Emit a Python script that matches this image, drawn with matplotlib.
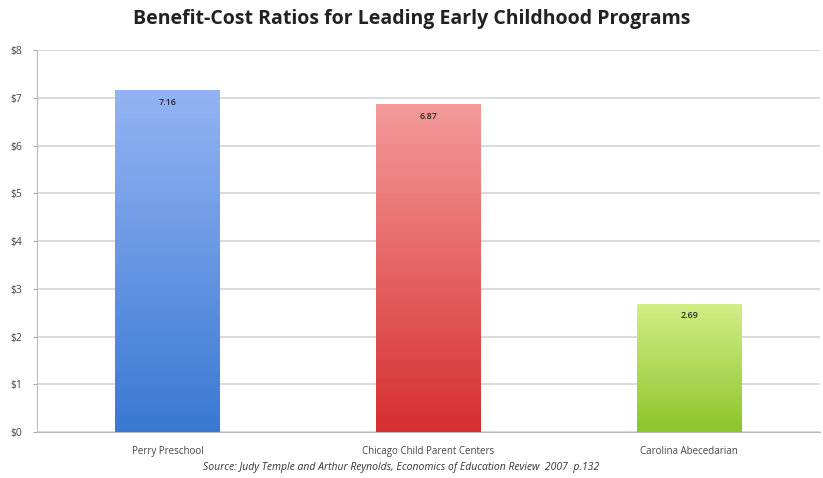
# benefit-cost ratio bar chart

import matplotlib.pyplot as plt
import matplotlib.colors as mcolors
import numpy as np

programs = ['Perry Preschool', 'Chicago Child Parent Centers', 'Carolina Abecedarian']
ratios = [7.16, 6.87, 2.69]
value_labels = ['7.16', '6.87', '2.69']
y_ticks = [0, 1, 2, 3, 4, 5, 6, 7, 8]

# top colour, bottom colour for each bar
gradients = [('#93b4f4', '#3a79d2'), ('#f59a9a', '#d62f2f'), ('#d3ee86', '#8cc52c')]

plt.rcParams['font.family'] = ['Open Sans', 'DejaVu Sans']

fig = plt.figure(figsize=(8.23, 4.78), dpi=100)
ax = fig.add_axes([0.045, 0.096, 0.951, 0.799])

x = np.arange(len(programs))
bars = ax.bar(x, ratios, width=0.4, color='none', edgecolor='none', zorder=3)

# fill each bar with a vertical gradient
for bar, (top, bottom) in zip(bars, gradients):
    cmap = mcolors.LinearSegmentedColormap.from_list('g', [bottom, top])
    grad = np.linspace(0, 1, 256).reshape(-1, 1)
    x0, w, h = bar.get_x(), bar.get_width(), bar.get_height()
    im = ax.imshow(grad, cmap=cmap, aspect='auto', origin='lower',
                   extent=[x0, x0 + w, 0, h], zorder=3)
    im.set_clip_path(bar)

for xi, r, lab in zip(x, ratios, value_labels):
    ax.text(xi, r - 0.25, lab, ha='center', va='center', fontsize=6.5,
            color='#2a2a2a', fontweight='semibold', zorder=4)

ax.set_xlim(-0.5, 2.5)
ax.set_ylim(0, 8)
ax.set_yticks(y_ticks)
ax.set_yticklabels([f'${t}' for t in y_ticks], fontsize=7.5, color='#444444')
ax.set_xticks(x)
ax.set_xticklabels(programs, fontsize=7, color='#444444')
ax.tick_params(axis='y', length=3, color='#aaaaaa', pad=8)
ax.tick_params(axis='x', length=0, pad=10)

ax.yaxis.grid(True, color='#d4d4d4', linewidth=1.2, zorder=0)
ax.set_axisbelow(True)
for s in ['top', 'right']:
    ax.spines[s].set_visible(False)
ax.spines['left'].set_color('#bbbbbb')
ax.spines['bottom'].set_color('#bbbbbb')

fig.text(0.5, 0.96, 'Benefit-Cost Ratios for Leading Early Childhood Programs',
         ha='center', va='center', fontsize=14, fontweight='bold', color='#222222')
fig.text(0.487, 0.022,
         'Source: Judy Temple and Arthur Reynolds, Economics of Education Review  2007  p.132',
         ha='center', va='center', fontsize=7.5, style='italic', color='#333333')

fig.savefig('out.png', dpi=100)
